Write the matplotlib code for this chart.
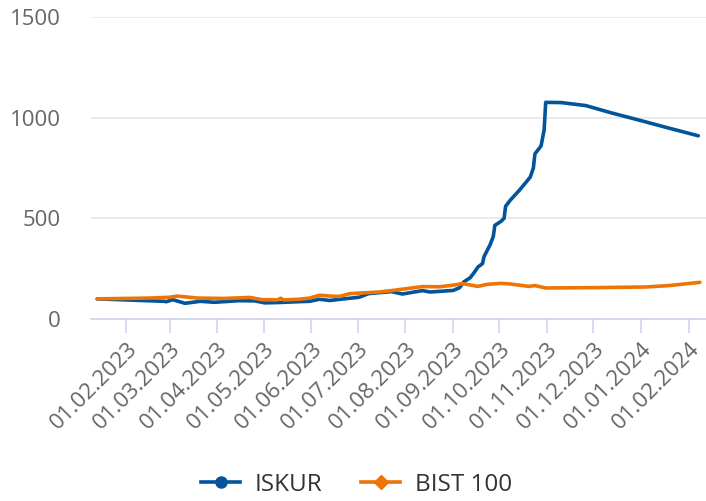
import matplotlib
matplotlib.use("Agg")
import matplotlib.pyplot as plt
import numpy as np

# values (index, start = 100)
iskur_dates = [
    "2023-01-13", "2023-02-25", "2023-02-27", "2023-03-03", "2023-03-11",
    "2023-03-21", "2023-03-30", "2023-04-15", "2023-04-25", "2023-05-02",
    "2023-05-11", "2023-05-24", "2023-05-31", "2023-06-06", "2023-06-13",
    "2023-06-22", "2023-07-02", "2023-07-08", "2023-07-23", "2023-07-30",
    "2023-08-12", "2023-08-17", "2023-09-01", "2023-09-05", "2023-09-08",
    "2023-09-12", "2023-09-15", "2023-09-17", "2023-09-20", "2023-09-21",
    "2023-09-23", "2023-09-25", "2023-09-27", "2023-09-28", "2023-10-02",
    "2023-10-04", "2023-10-05", "2023-10-08", "2023-10-14", "2023-10-21",
    "2023-10-23", "2023-10-24", "2023-10-28", "2023-10-30", "2023-10-31",
    "2023-11-10", "2023-11-26", "2023-12-13", "2023-12-31", "2024-01-17",
    "2024-02-07",
]
iskur_values = [
    100, 88, 86, 96, 78,
    88, 83, 91, 90, 80,
    82, 86, 88, 98, 92,
    100, 108, 126, 136, 124,
    141, 134, 142, 155, 185,
    205, 235, 258, 275, 310,
    340, 370, 410, 465, 485,
    500, 560, 590, 640, 705,
    750, 820, 860, 940, 1076,
    1075, 1060, 1023, 987, 952,
    910,
]

bist_dates = [
    "2023-01-13", "2023-02-16", "2023-03-01", "2023-03-06", "2023-03-19",
    "2023-04-05", "2023-04-22", "2023-04-30", "2023-05-10", "2023-05-12",
    "2023-05-14", "2023-05-24", "2023-05-31", "2023-06-06", "2023-06-13",
    "2023-06-19", "2023-06-26", "2023-07-15", "2023-07-26", "2023-08-04",
    "2023-08-12", "2023-08-23", "2023-09-01", "2023-09-07", "2023-09-17",
    "2023-09-23", "2023-10-02", "2023-10-08", "2023-10-20", "2023-10-24",
    "2023-10-31", "2023-12-04", "2024-01-04", "2024-01-19", "2024-02-08",
]
bist_values = [
    100, 104, 108, 114, 104,
    102, 107, 96, 95, 103,
    95, 98, 104, 118, 114,
    112, 126, 134, 144, 153,
    161, 160, 168, 176, 162,
    172, 177, 174, 162, 166,
    154, 156, 159, 166, 182,
]

tick_labels = [
    "01.02.2023", "01.03.2023", "01.04.2023", "01.05.2023", "01.06.2023",
    "01.07.2023", "01.08.2023", "01.09.2023", "01.10.2023", "01.11.2023",
    "01.12.2023", "01.01.2024", "01.02.2024",
]

BLUE = "#02549b"
ORANGE = "#ee7405"
GREY = "#666666"

plt.rcParams["font.family"] = ["Open Sans", "DejaVu Sans"]

fig = plt.figure(figsize=(7.06, 5.01), dpi=100)
ax = fig.add_axes([91 / 706, 1 - 319 / 501, 1 - 91 / 706, 302 / 501])

x_iskur = np.array(iskur_dates, dtype="datetime64[D]")
x_bist = np.array(bist_dates, dtype="datetime64[D]")

ax.plot(x_iskur, iskur_values, color=BLUE, lw=2.6, solid_joinstyle="round",
        solid_capstyle="round", label="ISKUR", zorder=3)
ax.plot(x_bist, bist_values, color=ORANGE, lw=2.6, solid_joinstyle="round",
        solid_capstyle="round", label="BIST 100", zorder=4)

ax.set_ylim(0, 1500)
ax.set_yticks([0, 500, 1000, 1500])
ax.set_xlim(np.datetime64("2023-01-09"), np.datetime64("2024-02-12"))

ticks = [np.datetime64("%s-%s-%s" % (t[6:], t[3:5], t[:2])) for t in tick_labels]
ax.set_xticks(ticks)
ax.set_xticklabels(tick_labels, rotation=45, ha="right", rotation_mode="anchor")

ax.grid(axis="y", color="#e6e6e6", lw=1.2)
ax.set_axisbelow(True)
for s in ["top", "right", "left"]:
    ax.spines[s].set_visible(False)
ax.spines["bottom"].set_color("#ccd6eb")
ax.spines["bottom"].set_linewidth(1.2)

ax.tick_params(axis="y", length=0, pad=22, labelsize=16, labelcolor=GREY)
ax.tick_params(axis="x", length=10, width=1.2, color="#ccd6eb", pad=4,
               labelsize=16, labelcolor=GREY)

# legend handles with markers
h1, = ax.plot([], [], color=BLUE, lw=2.6, marker="o", markersize=8)
h2, = ax.plot([], [], color=ORANGE, lw=2.6, marker="D", markersize=7)
leg = fig.legend([h1, h2], ["ISKUR", "BIST 100"], loc="lower center",
                 bbox_to_anchor=(0.505, -0.035), ncol=2, frameon=False,
                 fontsize=17.5, handlelength=1.6, columnspacing=1.6,
                 handletextpad=0.6)
for t in leg.get_texts():
    t.set_color("#333333")

fig.savefig("out.png", dpi=100)
